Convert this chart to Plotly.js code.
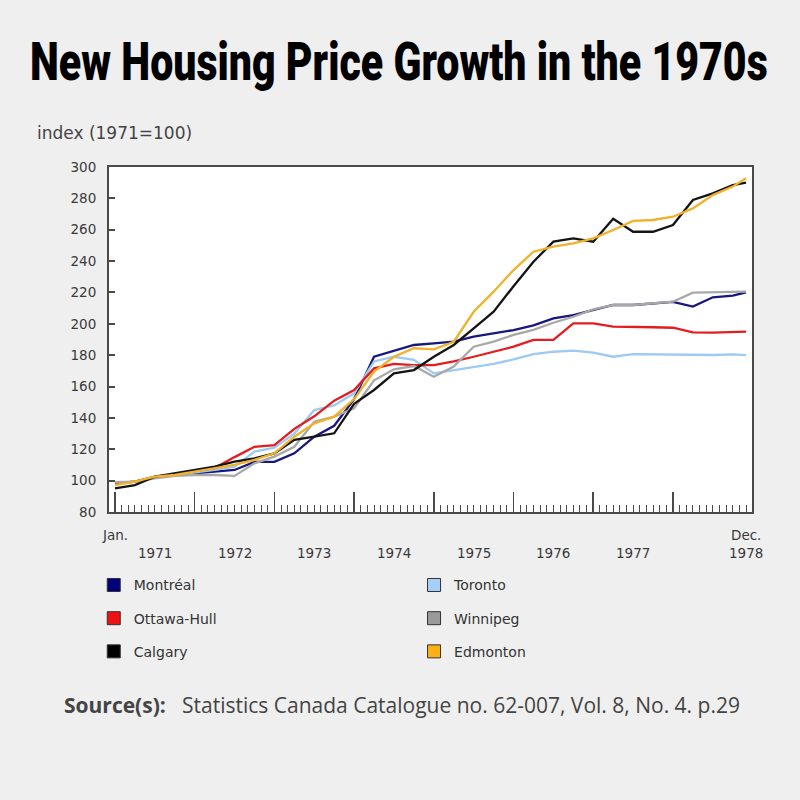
<!DOCTYPE html>
<html>
<head>
<meta charset="utf-8">
<script src="https://cdn.plot.ly/plotly-3.0.1.min.js"></script>
<style>
  html, body { margin: 0; padding: 0; background: #efefef; }
  #chart { width: 800px; height: 800px; }
</style>
</head>
<body>
<div id="chart"></div>
<script>
// Month index: 0 = Jan 1971, 95 = Dec 1978
const months = [0,3,6,9,12,15,18,21,24,27,30,33,36,39,42,45,48,51,54,57,60,63,66,69,72,75,78,81,84,87,90,93,95];

const montreal = [98.3,99.3,102,103.6,104.6,105.7,106.8,112,112,117.4,128,135,152,179,183,186.5,187.5,188.6,191.8,194,196,199,203.5,205.6,208.8,212,212,213,214,211,216.9,218,220];
const toronto  = [98.7,99.3,102,103.6,105,106.8,108.9,118.5,121,130,145,148,155.7,176,179,177,168.4,170.5,172.7,174.4,177.3,180.7,182.2,182.9,181.6,179,180.7,180.5,180.5,180.5,180.1,180.5,180];
const ottawa   = [98.3,99.3,102.5,104,106,108,115,121.6,122.7,133,141,151,157.8,171.6,174.4,173.7,173.7,176,179,182.2,185.4,189.7,189.7,200.3,200.3,198.2,197.8,197.8,197.5,194.6,194.4,195,195];
const winnipeg = [99,99.3,101.5,103,103.6,103.6,103,111,115.3,121.6,137.6,140.8,146.1,164,171,173.1,166.3,172.7,185.4,188.6,192.9,196.1,200.7,204.5,209.2,212,212,213.1,214.1,219.9,220.1,220.5,220.5];
const calgary  = [95,97.2,102.5,104.6,106.8,108.9,112.1,114.2,117.4,126,128,130.2,149,157.8,168.4,170.5,179,186.5,197.1,207.7,224,239.6,252.4,254.5,252.4,267,258.7,258.7,263,279,283.2,288.5,290];
const edmonton = [97.2,99.3,102.5,103.6,105.7,107.8,110,113.2,117.4,128,136.5,140.8,152,169.5,179,184.4,183.7,188.6,207.7,220.5,234.3,246,249.2,251.3,254.5,259.8,265.6,266.2,268.3,273.6,282.1,287.5,292.8];

const seriesNames = ['Montréal','Toronto','Ottawa-Hull','Winnipeg','Calgary','Edmonton'];
const seriesValues = [montreal, toronto, ottawa, winnipeg, calgary, edmonton];
const lineColors = ['#17177f','#9ccaf3','#e51b1f','#a8a8a8','#141414','#f1b128'];
const swatchColors = ['#00007a','#a6d0fb','#ee1111','#9a9a9a','#000000','#fbb016'];

const yearLabels = ['1971','1972','1973','1974','1975','1976','1977','1978'];
const yearLabelMonths = [6,18,30,42,54,66,78,95];
const edgeLabels = ['Jan.','Dec.'];
const edgeLabelMonths = [0,95];

const tickFont = {family: 'DejaVu Sans', size: 13.5, color: '#3a3a3a'};

const traces = [];
seriesValues.forEach((vals, i) => {
  traces.push({
    type: 'scatter', mode: 'lines', x: months, y: vals, name: seriesNames[i],
    line: {color: lineColors[i], width: 2.3}, showlegend: false, hoverinfo: 'skip'
  });
});
// legend entries (square swatches), two columns
const legendCol = ['legend','legend2','legend','legend2','legend','legend2'];
const legendOrder = [0,2,4,1,3,5];
legendOrder.forEach((i) => {
  traces.push({
    type: 'scatter', mode: 'markers', x: [null], y: [null], name: seriesNames[i],
    legend: legendCol[i], legendgroup: 'g' + i,
    marker: {symbol: 'square', size: 13, color: swatchColors[i], line: {color: '#333', width: 1}},
    showlegend: true
  });
});

const annotations = [];
yearLabels.forEach((t, k) => {
  annotations.push({text: t, x: yearLabelMonths[k], xref: 'x', y: -0.118, yref: 'paper',
    showarrow: false, xanchor: 'center', yanchor: 'middle', font: tickFont});
});
edgeLabels.forEach((t, k) => {
  annotations.push({text: t, x: edgeLabelMonths[k], xref: 'x', y: -0.067, yref: 'paper',
    showarrow: false, xanchor: 'center', yanchor: 'middle', font: tickFont});
});
annotations.push({text: 'index (1971=100)', xref: 'paper', x: -0.1151, xanchor: 'left',
  yref: 'paper', y: 1.0986, yanchor: 'middle', showarrow: false,
  font: {family: 'DejaVu Sans', size: 17, color: '#444'}});
annotations.push({text: '<b>Source(s):</b>', xref: 'paper', x: -0.0731, xanchor: 'left',
  yref: 'paper', y: -0.5594, yanchor: 'middle', showarrow: false,
  font: {family: 'Open Sans', size: 21, color: '#444'}});
annotations.push({text: 'Statistics Canada Catalogue no. 62-007, Vol. 8, No. 4. p.29', xref: 'paper', x: 0.1104, xanchor: 'left',
  yref: 'paper', y: -0.5594, yanchor: 'middle', showarrow: false,
  font: {family: 'Open Sans', size: 21, color: '#444'}});

const legendBase = {
  orientation: 'v', xanchor: 'left', yanchor: 'top', y: -0.1663,
  font: {family: 'DejaVu Sans', size: 14, color: '#333'},
  bgcolor: 'rgba(0,0,0,0)', tracegroupgap: 12, itemwidth: 30
};

const layout = {
  width: 800, height: 800,
  paper_bgcolor: '#efefef', plot_bgcolor: '#ffffff',
  margin: {l: 109, r: 48, t: 167, b: 288},
  title: {
    text: 'New Housing Price Growth in the 1970s',
    x: 30/800, xref: 'container', xanchor: 'left',
    y: 1 - 61/800, yref: 'container', yanchor: 'middle',
    font: {family: 'Roboto', size: 53, weight: 900, color: '#000'}
  },
  xaxis: {
    range: [-0.9, 95.9], showgrid: false, zeroline: false,
    showline: true, linecolor: '#4a4a4a', linewidth: 2, mirror: true,
    tickmode: 'linear', tick0: 0, dtick: 12, ticks: 'inside', ticklen: 20, tickwidth: 1.5, tickcolor: '#4a4a4a',
    showticklabels: false,
    minor: {tickmode: 'linear', tick0: 0, dtick: 1, ticks: 'inside', ticklen: 7, tickwidth: 1, tickcolor: '#4a4a4a', showgrid: false}
  },
  yaxis: {
    range: [80, 300], showgrid: false, zeroline: false,
    showline: true, linecolor: '#4a4a4a', linewidth: 2, mirror: true,
    tickmode: 'linear', tick0: 80, dtick: 20, ticks: 'inside', ticklen: 6, tickwidth: 2, tickcolor: '#4a4a4a',
    tickfont: tickFont, ticklabelstandoff: 8
  },
  legend: Object.assign({}, legendBase, {x: -0.0237}),
  legend2: Object.assign({}, legendBase, {x: 0.4744}),
  annotations: annotations
};

Plotly.newPlot('chart', traces, layout, {displayModeBar: false, staticPlot: true}).then(() => {
  // squeeze the headline horizontally to the reference's condensed width
  const t = document.querySelector('.gtitle');
  if (t) {
    const w = t.getComputedTextLength();
    const target = 738, x0 = 30;
    if (w > target) {
      const s = target / w;
      const prev = t.getAttribute('transform') || '';
      t.setAttribute('transform', 'matrix(' + s + ',0,0,1,' + (x0 * (1 - s)) + ',0) ' + prev);
    }
  }
});
</script>
</body>
</html>
